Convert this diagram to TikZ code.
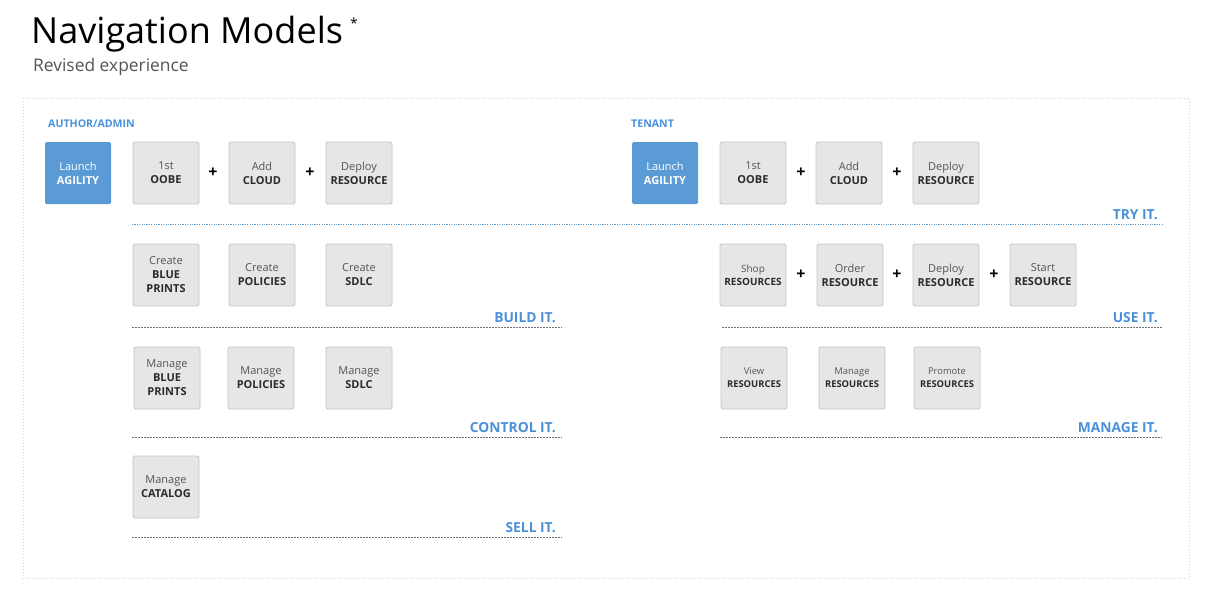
\documentclass[tikz,border=0pt]{standalone}
\usepackage{fontspec}
\setmainfont{Open Sans}
\definecolor{boxfill}{HTML}{E6E6E6}
\definecolor{boxborder}{HTML}{C4C4C4}
\definecolor{agblue}{HTML}{5B9BD5}
\definecolor{lblblue}{HTML}{4A90D9}
\definecolor{txtgray}{HTML}{555555}
\definecolor{txtdark}{HTML}{2B2B2B}
\definecolor{framegray}{HTML}{D0D0D0}
\definecolor{linegray}{HTML}{707070}
\newcommand\boxtop[1]{{\color{txtgray}#1}}
\newcommand\boxbot[1]{{\bfseries\color{txtdark}#1}}
\begin{document}
\begin{tikzpicture}[x=1pt,y=-1pt,
  gbox/.style={draw=boxborder, fill=boxfill, rounded corners=1.5pt, minimum width=66pt, minimum height=62pt, inner sep=0pt, align=center, line width=0.9pt, font=\fontsize{11}{14}\selectfont},
  gboxs/.style={gbox, font=\fontsize{10}{13.5}\selectfont},
  bbox/.style={fill=agblue, rounded corners=1.5pt, minimum width=66pt, minimum height=62pt, inner sep=0pt, align=center, text=white, font=\fontsize{11}{14}\selectfont},
  plus/.style={inner sep=0pt, font=\fontsize{16}{16}\selectfont\bfseries, text=black},
  seclabel/.style={anchor=base east, inner sep=0pt, text=lblblue, font=\fontsize{13.8}{14}\selectfont\bfseries},
  header/.style={anchor=base west, inner sep=0pt, text=lblblue, font=\fontsize{10.6}{11}\selectfont\bfseries},
  blueline/.style={draw=agblue, dash pattern=on 1.2pt off 1.2pt, line width=0.8pt},
  grayline/.style={draw=linegray, dash pattern=on 1.8pt off 1.2pt, line width=0.7pt},
]
\useasboundingbox (0,0) rectangle (1207,592);

% title
\node[anchor=base west, inner sep=0pt, text=black, font=\fontsize{36}{36}\selectfont] (title) at (31,43) {Navigation Models};
\node[inner sep=0pt, font=\fontsize{14}{14}\selectfont] (ast) at (354,23) {*};
\node[anchor=base west, inner sep=0pt, text=txtgray, font=\fontsize{17.4}{18}\selectfont] (subtitle) at (33,71) {Revised experience};

% frame
\draw[draw=framegray, dash pattern=on 1pt off 2pt, line width=0.7pt] (23,98) rectangle (1189,578);

% headers
\node[header] (hadmin) at (48,127) {AUTHOR/ADMIN};
\node[header] (htenant) at (631,127) {TENANT};

% ---------- left column ----------
\node[bbox] (la) at (78,173) {Launch\\\textbf{AGILITY}};
\node[gbox] (l11) at (166,173) {\boxtop{1st}\\\boxbot{OOBE}};
\node[gbox] (l12) at (262,173) {\boxtop{Add}\\\boxbot{CLOUD}};
\node[gbox] (l13) at (359,173) {\boxtop{Deploy}\\\boxbot{RESOURCE}};
\node[plus] (lp1) at (213,173) {+};
\node[plus] (lp2) at (310,173) {+};

\node[gbox] (l21) at (166,275) {\boxtop{Create}\\\boxbot{BLUE}\\\boxbot{PRINTS}};
\node[gbox] (l22) at (262,275) {\boxtop{Create}\\\boxbot{POLICIES}};
\node[gbox] (l23) at (359,275) {\boxtop{Create}\\\boxbot{SDLC}};

\node[gbox] (l31) at (167,378) {\boxtop{Manage}\\\boxbot{BLUE}\\\boxbot{PRINTS}};
\node[gbox] (l32) at (261,378) {\boxtop{Manage}\\\boxbot{POLICIES}};
\node[gbox] (l33) at (359,378) {\boxtop{Manage}\\\boxbot{SDLC}};

\node[gbox] (l41) at (166,487) {\boxtop{Manage}\\\boxbot{CATALOG}};

% ---------- right column ----------
\node[bbox] (ra) at (665,173) {Launch\\\textbf{AGILITY}};
\node[gbox] (r11) at (753,173) {\boxtop{1st}\\\boxbot{OOBE}};
\node[gbox] (r12) at (849,173) {\boxtop{Add}\\\boxbot{CLOUD}};
\node[gbox] (r13) at (946,173) {\boxtop{Deploy}\\\boxbot{RESOURCE}};
\node[plus] (rp1) at (801,173) {+};
\node[plus] (rp2) at (897,173) {+};

\node[gboxs] (r21) at (753,275) {\boxtop{Shop}\\\boxbot{RESOURCES}};
\node[gbox] (r22) at (850,275) {\boxtop{Order}\\\boxbot{RESOURCE}};
\node[gbox] (r23) at (946,275) {\boxtop{Deploy}\\\boxbot{RESOURCE}};
\node[gbox] (r24) at (1043,275) {\boxtop{Start}\\\boxbot{RESOURCE}};
\node[plus] (rp3) at (801,275) {+};
\node[plus] (rp4) at (897,275) {+};
\node[plus] (rp5) at (994,275) {+};

\node[gboxs, font=\fontsize{9.4}{13}\selectfont] (r31) at (754,378) {\boxtop{View}\\\boxbot{RESOURCES}};
\node[gboxs, font=\fontsize{9.4}{13}\selectfont] (r32) at (852,378) {\boxtop{Manage}\\\boxbot{RESOURCES}};
\node[gboxs, font=\fontsize{9.4}{13}\selectfont] (r33) at (947,378) {\boxtop{Promote}\\\boxbot{RESOURCES}};

% ---------- separators ----------
\coordinate (s1a) at (132,224); \coordinate (s1b) at (1162,224);
\draw[blueline] (s1a) -- (s1b);
\node[seclabel] (try) at (1158,219) {TRY IT.};

\coordinate (s2a) at (132,327); \coordinate (s2b) at (562,327);
\draw[grayline] (s2a) -- (s2b);
\node[seclabel] (build) at (556,322) {BUILD IT.};

\coordinate (s3a) at (722,327); \coordinate (s3b) at (1162,327);
\draw[grayline] (s3a) -- (s3b);
\node[seclabel] (use) at (1158,322) {USE IT.};

\coordinate (s4a) at (132,437); \coordinate (s4b) at (562,437);
\draw[grayline] (s4a) -- (s4b);
\node[seclabel] (control) at (556,432) {CONTROL IT.};

\coordinate (s5a) at (720,437); \coordinate (s5b) at (1162,437);
\draw[grayline] (s5a) -- (s5b);
\node[seclabel] (manage) at (1158,432) {MANAGE IT.};

\coordinate (s6a) at (132,537); \coordinate (s6b) at (562,537);
\draw[grayline] (s6a) -- (s6b);
\node[seclabel] (sell) at (556,532) {SELL IT.};
\end{tikzpicture}
\end{document}
